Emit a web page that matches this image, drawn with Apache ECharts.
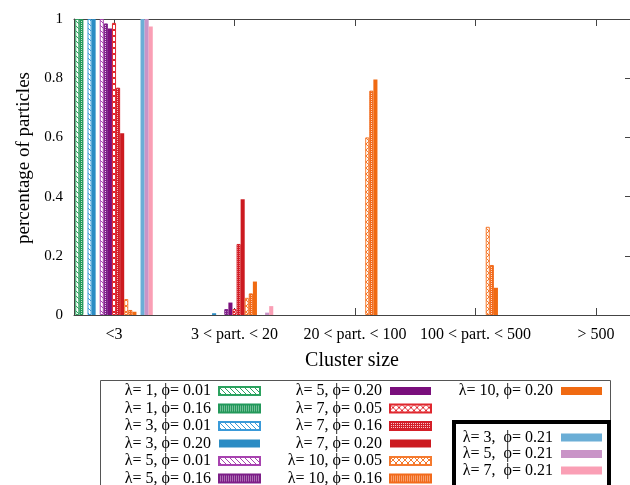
<!DOCTYPE html>
<html><head><meta charset="utf-8">
<script src="https://cdn.jsdelivr.net/npm/echarts@6/dist/echarts.min.js"></script>
<style>html,body{margin:0;padding:0;background:#fff}#c{width:630px;height:485px}</style>
</head><body><div id="c"></div>
<script>
// ---- data ----
const categories = ['<3', '3 < part. < 20', '20 < part. < 100', '100 < part. < 500', '> 500'];
const yTicks = [0, 0.2, 0.4, 0.6, 0.8, 1];
const l1p001 = [1.0, 0, 0, 0, 0];
const l1p016 = [1.0, 0, 0, 0, 0];
const l3p001 = [1.0, 0, 0, 0, 0];
const l3p020 = [1.0, 0.006, 0, 0, 0];
const l5p001 = [1.0, 0, 0, 0, 0];
const l5p016 = [0.985, 0.02, 0, 0, 0];
const l5p020 = [0.968, 0.042, 0, 0, 0];
const l7p005 = [0.987, 0.02, 0, 0, 0];
const l7p016 = [0.768, 0.24, 0, 0, 0];
const l7p020 = [0.614, 0.391, 0, 0, 0];
const l10p005 = [0.054, 0.058, 0.60, 0.298, 0];
const l10p016 = [0.017, 0.073, 0.758, 0.169, 0];
const l10p020 = [0.011, 0.113, 0.796, 0.092, 0];
const l3p021 = [1.0, 0, 0, 0, 0];
const l5p021 = [1.0, 0.008, 0, 0, 0];
const l7p021 = [0.975, 0.03, 0, 0, 0];

const seriesNames = [
  'λ= 1, ϕ= 0.01', 'λ= 1, ϕ= 0.16', 'λ= 3, ϕ= 0.01', 'λ= 3, ϕ= 0.20',
  'λ= 5, ϕ= 0.01', 'λ= 5, ϕ= 0.16', 'λ= 5, ϕ= 0.20', 'λ= 7, ϕ= 0.05',
  'λ= 7, ϕ= 0.16', 'λ= 7, ϕ= 0.20', 'λ= 10, ϕ= 0.05', 'λ= 10, ϕ= 0.16',
  'λ= 10, ϕ= 0.20', 'λ= 3,  ϕ= 0.21', 'λ= 5,  ϕ= 0.21', 'λ= 7,  ϕ= 0.21'
];
const seriesValues = [l1p001, l1p016, l3p001, l3p020, l5p001, l5p016, l5p020, l7p005,
  l7p016, l7p020, l10p005, l10p016, l10p020, l3p021, l5p021, l7p021];
const seriesColors = ['#2ca25f', '#23985a', '#3a9ad9', '#2b8cc4', '#a843b0', '#7d1f88', '#7a0f7c', '#e0272e',
  '#d41f28', '#cc1a20', '#f57a2e', '#f26a1b', '#f06a12', '#6baed6', '#c994c7', '#fa9fb5'];
const seriesFills = ['hatch', 'dense', 'hatch', 'solid', 'hatch', 'dense', 'solid', 'cross',
  'dense', 'solid', 'cross', 'dense', 'solid', 'solid', 'solid', 'solid'];
// bar slot order in each cluster (-1 = empty slot)
const slotOrder = [0, 1, -1, 2, 3, -1, 4, 5, 6, 7, 8, 9, 10, 11, 12, -1, 13, 14, 15];

// ---- patterns ----
function makePattern(kind, color) {
  const c = document.createElement('canvas');
  let ctx;
  if (kind === 'hatch') {
    c.width = 5; c.height = 5; ctx = c.getContext('2d');
    ctx.fillStyle = '#fff'; ctx.fillRect(0, 0, 5, 5);
    ctx.strokeStyle = color; ctx.lineWidth = 1;
    ctx.beginPath();
    ctx.moveTo(-1, -1); ctx.lineTo(6, 6);
    ctx.moveTo(4, -1); ctx.lineTo(6, 1);
    ctx.moveTo(-1, 4); ctx.lineTo(1, 6);
    ctx.stroke();
  } else if (kind === 'dense') {
    c.width = 4; c.height = 4; ctx = c.getContext('2d');
    ctx.fillStyle = color; ctx.fillRect(0, 0, 4, 4);
    ctx.fillStyle = 'rgba(255,255,255,0.75)';
    ctx.fillRect(1, 1, 1, 1); ctx.fillRect(3, 3, 1, 1);
    ctx.fillRect(1, 3, 1, 1); ctx.fillRect(3, 1, 1, 1);
  } else {
    c.width = 6; c.height = 6; ctx = c.getContext('2d');
    ctx.fillStyle = '#fff'; ctx.fillRect(0, 0, 6, 6);
    ctx.strokeStyle = color; ctx.lineWidth = 1;
    ctx.beginPath();
    ctx.moveTo(0, 0); ctx.lineTo(6, 6);
    ctx.moveTo(6, 0); ctx.lineTo(0, 6);
    ctx.stroke();
  }
  return { image: c, repeat: 'repeat' };
}

const BAR_W = 4.08;
const series = slotOrder.map(function (k, slot) {
  if (k < 0) {
    return { type: 'bar', name: 'empty' + slot, data: [], barWidth: BAR_W, barGap: '0%', silent: true };
  }
  const col = seriesColors[k];
  const fill = seriesFills[k];
  const data = [];
  seriesValues[k].forEach(function (v, i) { if (v > 0) data.push([i, v]); });
  return {
    type: 'bar', name: seriesNames[k], data: data, barWidth: BAR_W, barGap: '0%', silent: true,
    itemStyle: fill === 'solid'
      ? { color: col }
      : { color: makePattern(fill, col), borderColor: col, borderWidth: 1 }
  };
});

const serifFont = 'Liberation Serif';
function legendCol(names, right, top, gap) {
  return {
    data: names, orient: 'vertical', right: right, top: top, height: 130, align: 'right',
    itemWidth: 41, itemHeight: 8, itemGap: gap, padding: 0, icon: 'rect', selectedMode: false,
    textStyle: { fontFamily: serifFont, fontSize: 16, color: '#000', padding: [0, 3, 0, 0] }
  };
}

const axisCol = '#444';
const option = {
  animation: false,
  backgroundColor: '#fff',
  grid: { left: 74, right: 0, top: 19, bottom: 170, containLabel: false, outerBoundsMode: 'none' },
  xAxis: [{
    type: 'value', min: -0.332, max: 4.282, position: 'bottom',
    name: 'Cluster size', nameLocation: 'middle', nameGap: 36,
    nameTextStyle: { fontFamily: serifFont, fontSize: 20, color: '#000' },
    axisLine: { show: true, onZero: false, lineStyle: { color: axisCol, width: 1 } },
    axisTick: { show: true, inside: true, length: 7, customValues: [0, 1, 2, 3, 4], lineStyle: { color: axisCol } },
    axisLabel: {
      customValues: [0, 1, 2, 3, 4], margin: 12, fontFamily: serifFont, fontSize: 16, color: '#000',
      formatter: function (v) { return categories[Math.round(v)]; }
    },
    splitLine: { show: false }
  }, {
    type: 'value', min: -0.332, max: 4.282, position: 'top',
    axisLine: { show: true, onZero: false, lineStyle: { color: axisCol, width: 1 } },
    axisTick: { show: true, inside: true, length: 7, customValues: [0, 1, 2, 3, 4], lineStyle: { color: axisCol } },
    axisLabel: { show: false }, splitLine: { show: false }
  }],
  yAxis: [{
    type: 'value', min: 0, max: 1, interval: 0.2, position: 'left',
    name: 'percentage of particles', nameLocation: 'middle', nameGap: 37,
    nameTextStyle: { fontFamily: serifFont, fontSize: 19, color: '#000', padding: [0, 0, 0, 18] },
    axisLine: { show: true, onZero: false, lineStyle: { color: axisCol, width: 1 } },
    axisTick: { show: true, inside: true, length: 5, lineStyle: { color: axisCol } },
    axisLabel: { margin: 11, fontFamily: serifFont, fontSize: 15, color: '#000',
      formatter: function (v) { return String(Math.round(v * 10) / 10); } },
    splitLine: { show: false }
  }, {
    type: 'value', min: 0, max: 1, interval: 0.2, position: 'right',
    axisLine: { show: true, onZero: false, lineStyle: { color: axisCol, width: 1 } },
    axisTick: { show: true, inside: true, length: 5, lineStyle: { color: axisCol } },
    axisLabel: { show: false }, splitLine: { show: false }
  }],
  legend: [
    legendCol(seriesNames.slice(0, 6), 369, 383, 1.5),
    legendCol(seriesNames.slice(6, 12), 198, 383, 1.5),
    legendCol(seriesNames.slice(12, 13), 28, 383, 1.5),
    legendCol(seriesNames.slice(13, 16), 28, 429.5, 0.5)
  ],
  graphic: [
    { type: 'rect', silent: true, shape: { x: 100.5, y: 380.5, width: 510, height: 120 },
      style: { fill: 'none', stroke: '#555', lineWidth: 1 } },
    { type: 'rect', silent: true, shape: { x: 454, y: 422, width: 155, height: 80 },
      style: { fill: '#fff', stroke: '#000', lineWidth: 4 } }
  ],
  series: series
};

const chart = echarts.init(document.getElementById('c'), null, { renderer: 'canvas' });
chart.setOption(option);
</script>
</body></html>
